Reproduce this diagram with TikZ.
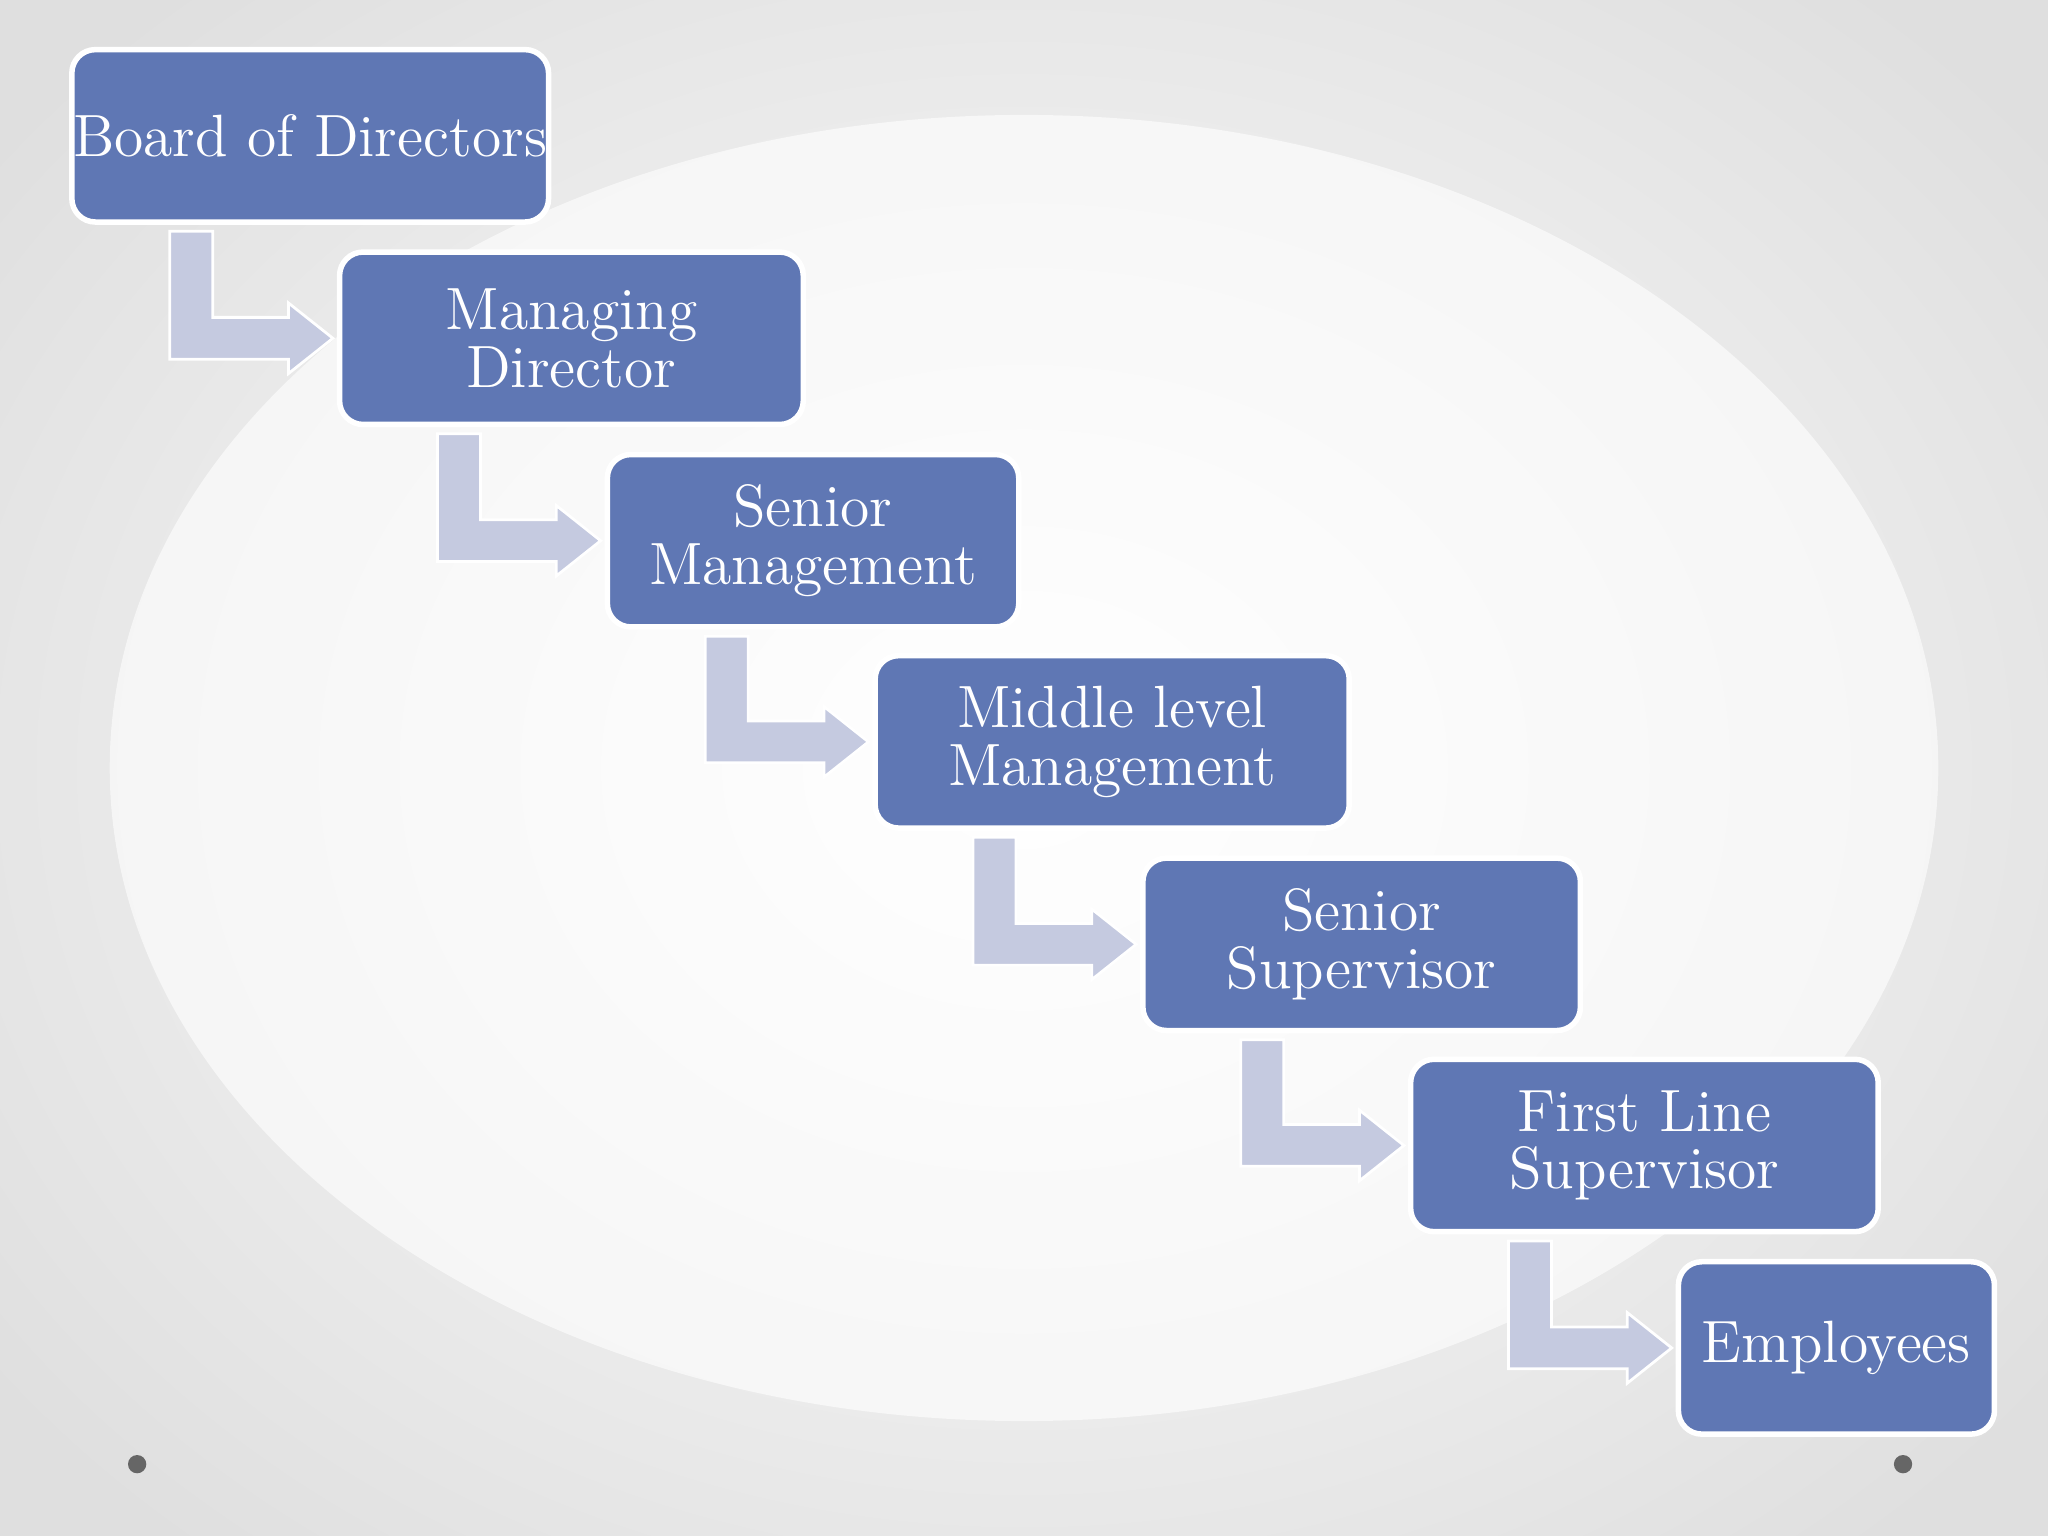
\documentclass[tikz,border=0pt]{standalone}
\usetikzlibrary{calc}
\definecolor{boxblue}{HTML}{5F77B4}
\definecolor{arrowc}{HTML}{C5CAE0}
\tikzset{
 levelbox/.style={rectangle,rounded corners=0.18cm,fill=boxblue,draw=white,line width=1.2pt,text=white,align=center,inner sep=0pt,font=\fontsize{13}{14}\selectfont},
 bent/.style={fill=arrowc,draw=white,line width=0.6pt}
}
\newcommand{\bentarrow}[2]{%
 \path[bent] let \p1=(#1.south west), \p2=(#2.west) in
 ({\x1+0.77cm},{\y1-0.05cm}) -- ({\x1+1.10cm},{\y1-0.05cm}) -- ({\x1+1.10cm},{\y2+0.16cm})
 -- ({\x2-0.37cm},{\y2+0.16cm}) -- ({\x2-0.37cm},{\y2+0.27cm}) -- ({\x2-0.03cm},{\y2})
 -- ({\x2-0.37cm},{\y2-0.27cm}) -- ({\x2-0.37cm},{\y2-0.16cm}) -- ({\x1+0.77cm},{\y2-0.16cm}) -- cycle;}
\begin{document}
\begin{tikzpicture}
\useasboundingbox (0,0) rectangle (15.68,-11.76);
\shade[inner color=white,outer color=gray!25] (-2,2) rectangle (17.68,-13.76);
\fill[white,opacity=0.6] (7.84,-5.88) ellipse (7 and 5);
\node[levelbox,minimum width=3.65cm,minimum height=1.32cm] (n1) at (2.375,-1.04) {Board of Directors};
\node[levelbox,minimum width=3.55cm,minimum height=1.32cm] (n2) at (4.375,-2.59) {Managing\\[-0.05cm]Director};
\node[levelbox,minimum width=3.15cm,minimum height=1.32cm] (n3) at (6.225,-4.14) {Senior\\[-0.05cm]Management};
\node[levelbox,minimum width=3.63cm,minimum height=1.32cm] (n4) at (8.515,-5.68) {Middle level\\[-0.05cm]Management};
\node[levelbox,minimum width=3.35cm,minimum height=1.32cm] (n5) at (10.425,-7.23) {Senior\\[-0.05cm]Supervisor};
\node[levelbox,minimum width=3.58cm,minimum height=1.32cm] (n6) at (12.59,-8.77) {First Line\\[-0.05cm]Supervisor};
\node[levelbox,minimum width=2.42cm,minimum height=1.32cm] (n7) at (14.06,-10.32) {Employees};
\bentarrow{n1}{n2}
\bentarrow{n2}{n3}
\bentarrow{n3}{n4}
\bentarrow{n4}{n5}
\bentarrow{n5}{n6}
\bentarrow{n6}{n7}
\fill[gray!80!black] (1.05,-11.21) circle (0.07);
\fill[gray!80!black] (14.57,-11.21) circle (0.07);
\end{tikzpicture}
\end{document}
